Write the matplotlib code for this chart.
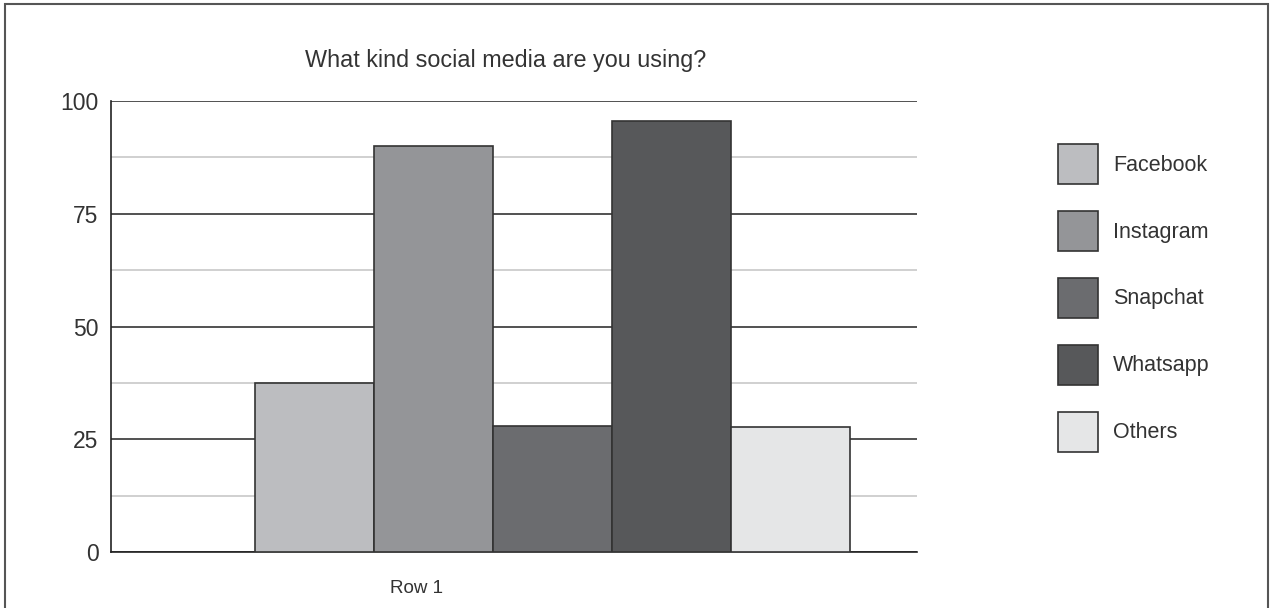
import numpy as np
import matplotlib.pyplot as plt
from matplotlib.patches import Rectangle

plt.rcParams['font.family'] = ['Liberation Sans', 'DejaVu Sans']

# Chart data
title = 'What kind social media are you using?'
labels = ['Facebook', 'Instagram', 'Snapchat', 'Whatsapp', 'Others']
values = [37.5, 90, 28, 95.5, 27.7]
colors = ['#bcbdc0', '#949598', '#6b6c6f', '#57585a', '#e5e6e7']
row_label = 'Row 1'
yticks = [0, 25, 50, 75, 100]

W, H = 1272, 608
fig = plt.figure(figsize=(W / 100, H / 100), dpi=100)

# outer frame of the picture
fig.patches.append(Rectangle((5 / W, -0.01), (1268 - 5) / W, 1.0 - 4 / H + 0.01,
                             transform=fig.transFigure, fill=False,
                             edgecolor='#555555', linewidth=1.5))

ax = fig.add_axes([111 / W, (H - 552) / H, 806 / W, 451 / H])

# bars, one width = 119 px
x_start = (255 - 111) / 119
xpos = x_start + np.arange(len(values))
bars = ax.bar(xpos, values, width=1.0, align='edge', color=colors,
              edgecolor='#333333', linewidth=1.2, zorder=3)

ax.set_xlim(0, 806 / 119)
ax.set_ylim(0, 100)

# gridlines: dark majors, light minors
ax.set_yticks(yticks)
ax.set_yticks([12.5, 37.5, 62.5, 87.5], minor=True)
ax.grid(axis='y', which='major', color='#333333', linewidth=1.2, zorder=0)
ax.grid(axis='y', which='minor', color='#c8c8c8', linewidth=1.2, zorder=0)
ax.tick_params(axis='y', which='both', length=0, pad=9, labelsize=16.5, labelcolor='#333333')

ax.set_xticks([(417 - 111) / 119])
ax.set_xticklabels([row_label])
ax.tick_params(axis='x', length=0, pad=20, labelsize=13.5, labelcolor='#333333')

for s in ['top', 'right']:
    ax.spines[s].set_visible(False)
for s in ['left', 'bottom']:
    ax.spines[s].set_color('#222222')
    ax.spines[s].set_linewidth(1.2)

fig.text(506 / W, 1 - 60 / H, title, ha='center', va='center',
         fontsize=16.8, color='#333333')

fs = 15.5
fig.legend(handles=list(bars), labels=labels, loc='upper left',
           bbox_to_anchor=(1058 / W, 1 - 144 / H), frameon=False,
           fontsize=fs, handlelength=28.8 / fs,
           handleheight=(28.8 / fs - 0.245) / 0.65,
           handletextpad=0.7, labelspacing=19.4 / fs, borderpad=0,
           borderaxespad=0, labelcolor='#333333')

fig.savefig('out.png', dpi=100)
